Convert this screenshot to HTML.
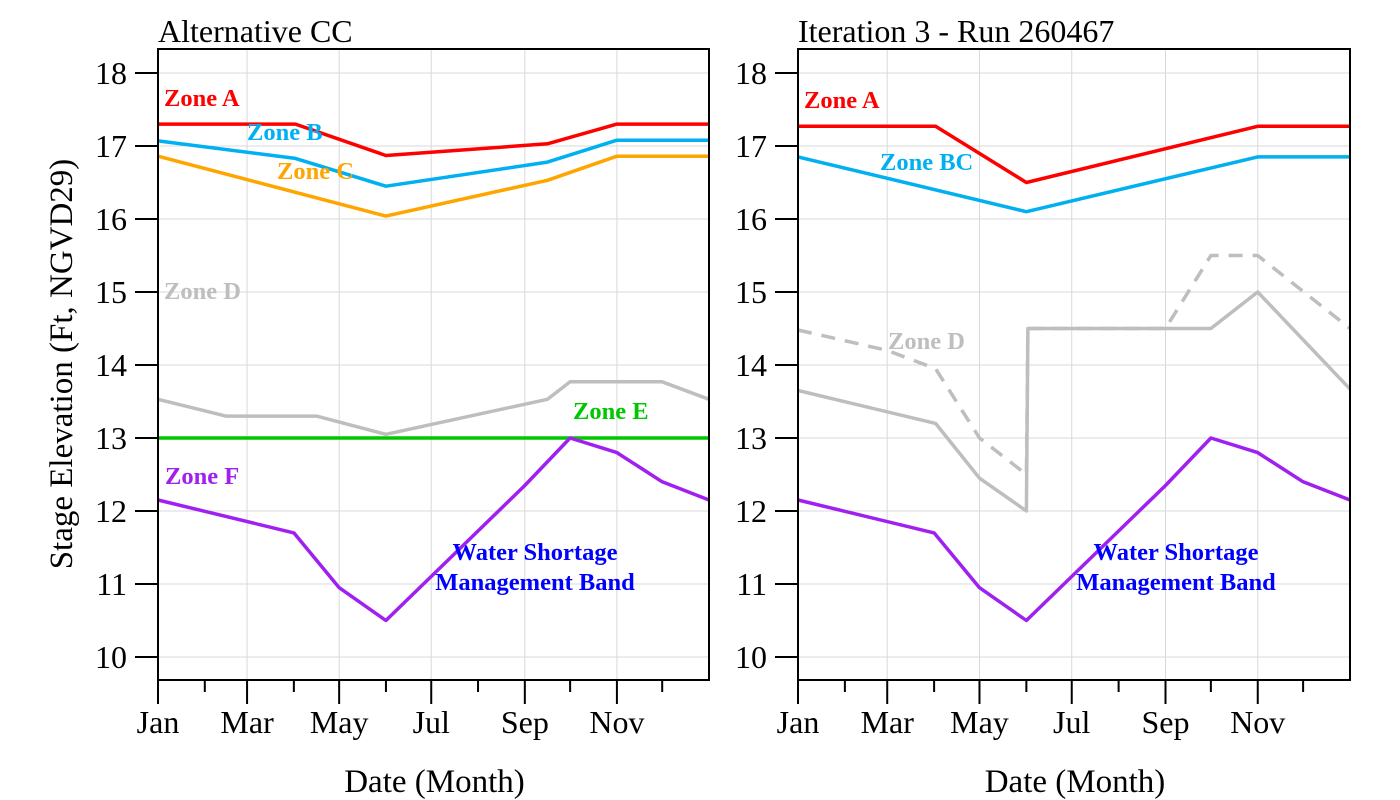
<!DOCTYPE html>
<html><head><meta charset="utf-8"><style>
body{margin:0;background:#fff;}
svg{display:block;font-family:"Liberation Serif",serif;}
</style></head><body>
<svg id="c" width="1400" height="800"></svg>
<script>
// Shared axes
const yTicks=[10,11,12,13,14,15,16,17,18];
const monthLabels=['Jan','Mar','May','Jul','Sep','Nov'];
const monthLabelDoy=[0,59,120,181,243,304];
const monthTickDoy=[0,31,59,90,120,151,181,212,243,273,304,334];
// Left panel series (day-of-year, stage ft)
const L_A_d=[0,91,151,258,304,365], L_A_v=[17.3,17.3,16.87,17.03,17.3,17.3];
const L_B_d=[0,91,151,258,304,365], L_B_v=[17.07,16.83,16.45,16.78,17.08,17.08];
const L_C_d=[0,151,258,304,365], L_C_v=[16.86,16.04,16.53,16.86,16.86];
const L_D_d=[0,45,105,151,258,273,334,365], L_D_v=[13.53,13.3,13.3,13.05,13.53,13.77,13.77,13.53];
const L_E_d=[0,365], L_E_v=[13,13];
const F_d=[0,90,120,151,243,273,304,334,365], F_v=[12.15,11.7,10.95,10.5,12.35,13.0,12.8,12.4,12.15];
// Right panel series
const R_A_d=[0,91,151,304,365], R_A_v=[17.27,17.27,16.5,17.27,17.27];
const R_BC_d=[0,151,304,365], R_BC_v=[16.85,16.1,16.85,16.85];
const R_D_d=[0,91,120,151,152,273,304,365], R_D_v=[13.65,13.2,12.45,12.0,14.5,14.5,15.0,13.67];
const R_Dd_d=[0,59,91,120,151,152,243,273,304,365], R_Dd_v=[14.48,14.2,13.95,13.0,12.5,14.5,14.5,15.5,15.5,14.5];

const NS='http://www.w3.org/2000/svg';
const svg=document.getElementById('c');
function mk(t,a,p){const e=document.createElementNS(NS,t);for(const k in a)e.setAttribute(k,a[k]);(p||svg).appendChild(e);return e;}
const TOP=49,BOT=680;
function yS(v){return 657-(v-10)*73;}
function panel(x0,x1,title,id){
  const g=mk('g',{});
  
  
  const xS=d=>x0+d*(x1-x0)/365;
  yTicks.forEach(v=>{const l=mk('line',{x1:x0,x2:x1,y1:yS(v),y2:yS(v),stroke:'#d9d9d9','stroke-width':1},g);
    });
  monthLabelDoy.slice(1).forEach(d=>{const l=mk('line',{x1:xS(d),x2:xS(d),y1:TOP,y2:BOT,stroke:'#d9d9d9','stroke-width':1},g);
    });
  const t=mk('text',{x:x0,y:42,'font-size':32},g);t.textContent=title;
  
  yTicks.forEach(v=>{mk('line',{x1:x0-23,x2:x0,y1:yS(v),y2:yS(v),stroke:'#000','stroke-width':2},g);
    const tx=mk('text',{x:x0-31,y:yS(v)+11,'font-size':32,'text-anchor':'end'},g);tx.textContent=v;
    });
  monthTickDoy.forEach(d=>{const maj=monthLabelDoy.includes(d);
    mk('line',{x1:xS(d),x2:xS(d),y1:BOT,y2:BOT+(maj?24:12),stroke:'#000','stroke-width':2},g);});
  monthLabels.forEach((m,i)=>{const tx=mk('text',{x:xS(monthLabelDoy[i]),y:733,'font-size':32,'text-anchor':'middle'},g);tx.textContent=m;
    });
  const xt=mk('text',{x:(x0+x1)/2+1,y:792,'font-size':33,'text-anchor':'middle'},g);xt.textContent='Date (Month)';
  
  return {g,xS};
}
function line(p,ds,vs,col,name,dash){
  const pts=ds.map((d,i)=>p.xS(d).toFixed(1)+','+yS(vs[i]).toFixed(1)).join(' ');
  const a={points:pts,fill:'none',stroke:col,'stroke-width':3.5,'stroke-linejoin':'round'};
  if(dash)a['stroke-dasharray']=dash;
  const e=mk('polyline',a,p.g);
  
  
}
function lab(p,x,y,txt,col,name){const t=mk('text',{x:x,y:y,'font-size':24.5,'font-weight':'bold',fill:col},p.g);t.textContent=txt;
  return t;}
function frame(p,x0,x1){mk('rect',{x:x0,y:TOP,width:x1-x0,height:BOT-TOP,fill:'none',stroke:'#000','stroke-width':2},p.g);}

const L=panel(158,709,'Alternative CC','left');
line(L,L_D_d,L_D_v,'#bebebe','zone-d-line');
line(L,L_E_d,L_E_v,'#00c800','zone-e-line');
line(L,F_d,F_v,'#a020f0','zone-f-line');
line(L,L_C_d,L_C_v,'#ffa500','zone-c-line');
line(L,L_B_d,L_B_v,'#00b0f0','zone-b-line');
line(L,L_A_d,L_A_v,'#ff0000','zone-a-line');
lab(L,164,106,'Zone A','#ff0000','zone-a-label');
lab(L,247,140,'Zone B','#00b0f0','zone-b-label');
lab(L,277,179,'Zone C','#ffa500','zone-c-label');
lab(L,164,299,'Zone D','#bebebe','zone-d-label');
lab(L,573,419,'Zone E','#00c800','zone-e-label');
lab(L,165,484,'Zone F','#a020f0','zone-f-label');
let t=lab(L,535,560,'Water Shortage','#0000ff','wsmb-label');t.setAttribute('text-anchor','middle');
t=lab(L,535,590,'Management Band','#0000ff','wsmb-label-2');t.setAttribute('text-anchor','middle');
frame(L,158,709);

const R=panel(798,1350,'Iteration 3 - Run 260467','right');
line(R,R_Dd_d,R_Dd_v,'#bebebe','zone-d-dashed-line','14,10');
line(R,R_D_d,R_D_v,'#bebebe','zone-d-line');
line(R,F_d,F_v,'#a020f0','zone-f-line');
line(R,R_BC_d,R_BC_v,'#00b0f0','zone-bc-line');
line(R,R_A_d,R_A_v,'#ff0000','zone-a-line');
lab(R,804,108,'Zone A','#ff0000','zone-a-label');
lab(R,880,170,'Zone BC','#00b0f0','zone-bc-label');
lab(R,888,349,'Zone D','#bebebe','zone-d-label');
t=lab(R,1176,560,'Water Shortage','#0000ff','wsmb-label');t.setAttribute('text-anchor','middle');
t=lab(R,1176,590,'Management Band','#0000ff','wsmb-label-2');t.setAttribute('text-anchor','middle');
frame(R,798,1350);

const yt=mk('text',{x:0,y:0,'font-size':33,'text-anchor':'middle',transform:'translate(72,364) rotate(-90)'});
yt.textContent='Stage Elevation (Ft, NGVD29)';


</script>
</body></html>
